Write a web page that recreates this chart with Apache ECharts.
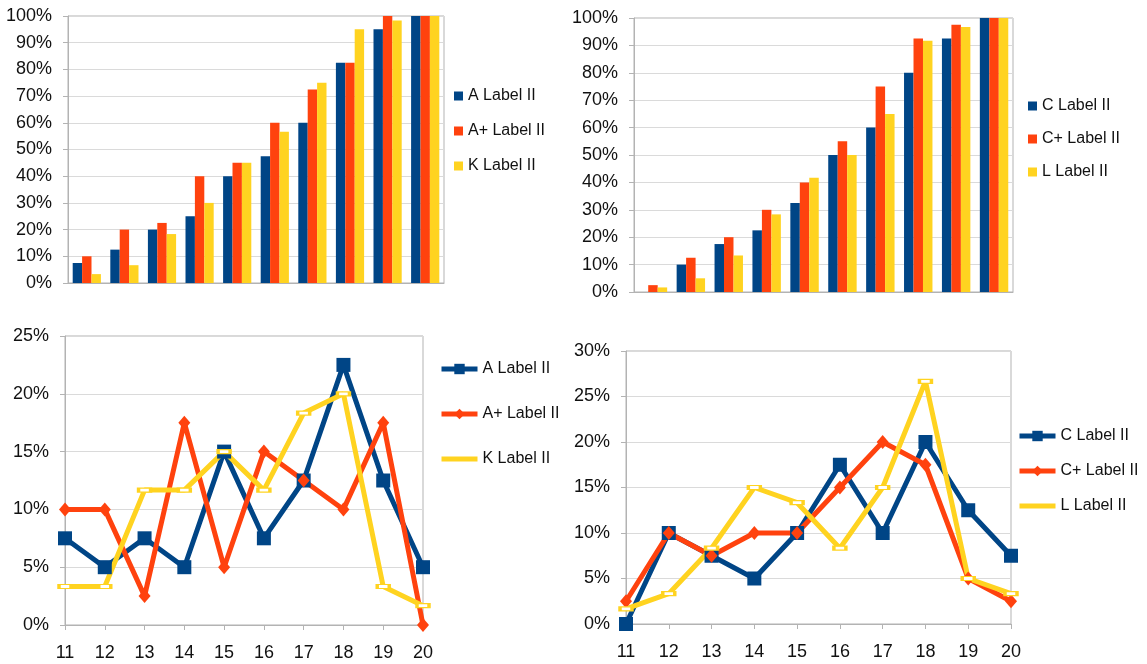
<!DOCTYPE html>
<html>
<head>
<meta charset="utf-8">
<script src="https://cdn.jsdelivr.net/npm/echarts@6/dist/echarts.min.js"></script>
<style>
  html, body { margin: 0; padding: 0; background: #ffffff; }
  .panel { position: absolute; left: 0; top: 0; width: 1147px; height: 664px; }
</style>
</head>
<body>
<div id="cumA" class="panel"></div>
<div id="cumC" class="panel"></div>
<div id="shareA" class="panel"></div>
<div id="shareC" class="panel"></div>
<script>
// Grade categories shared by all four panels
const categories = ['11', '12', '13', '14', '15', '16', '17', '18', '19', '20'];

// Share per grade (%)
const aShare     = [7.5, 5, 7.5, 5, 15, 7.5, 12.5, 22.5, 12.5, 5];
const aPlusShare = [10, 10, 2.5, 17.5, 5, 15, 12.5, 10, 17.5, 0];
const kShare     = [3.33, 3.33, 11.67, 11.67, 15, 11.67, 18.33, 20, 3.33, 1.67];
const cShare     = [0, 10, 7.5, 5, 10, 17.5, 10, 20, 12.5, 7.5];
const cPlusShare = [2.5, 10, 7.5, 10, 10, 15, 20, 17.5, 5, 2.5];
const lShare     = [1.67, 3.33, 8.33, 15, 13.33, 8.33, 15, 26.67, 5, 3.33];

// Cumulative share up to each grade (%)
const aCum     = [7.5, 12.5, 20, 25, 40, 47.5, 60, 82.5, 95, 100];
const aPlusCum = [10, 20, 22.5, 40, 45, 60, 72.5, 82.5, 100, 100];
const kCum     = [3.33, 6.67, 18.33, 30, 45, 56.67, 75, 95, 98.33, 100];
const cCum     = [0, 10, 17.5, 22.5, 32.5, 50, 60, 80, 92.5, 100];
const cPlusCum = [2.5, 12.5, 20, 30, 40, 55, 75, 92.5, 97.5, 100];
const lCum     = [1.67, 5, 13.33, 28.33, 41.67, 50, 65, 91.67, 96.67, 100];

// Series names
const namesA = ['A Label II', 'A+ Label II', 'K Label II'];
const namesC = ['C Label II', 'C+ Label II', 'L Label II'];

const BLUE = '#004586', RED = '#ff420e', YELLOW = '#ffd320';
const AXIS_FONT = { fontFamily: 'Liberation Sans', fontSize: 18, color: '#111' };
const LEGEND_FONT = { fontFamily: 'Liberation Sans', fontSize: 16, color: '#111' };

function yAxis(max, interval) {
  return {
    type: 'value', min: 0, max: max, interval: interval,
    axisLine: { show: true, lineStyle: { color: '#b3b3b3', width: 1 } },
    axisTick: { show: true, length: 5, lineStyle: { color: '#b3b3b3' } },
    splitLine: { show: true, lineStyle: { color: '#dadada', width: 1 } },
    axisLabel: Object.assign({ formatter: '{value}%', margin: 16 }, AXIS_FONT)
  };
}

function barChart(el, box, legendPos, names, values, legendGap) {
  const colors = [BLUE, RED, YELLOW];
  const chart = echarts.init(document.getElementById(el), null, { renderer: 'canvas' });
  chart.setOption({
    animation: false,
    grid: Object.assign({ show: true, borderColor: '#b3b3b3', borderWidth: 1 }, box),
    legend: {
      orient: 'vertical', left: legendPos[0], top: legendPos[1], padding: 0,
      icon: 'rect', itemWidth: 9, itemHeight: 9, itemGap: legendGap,
      textStyle: LEGEND_FONT, data: names
    },
    xAxis: {
      type: 'category', data: categories,
      axisLine: { show: true, lineStyle: { color: '#b3b3b3' } },
      axisTick: { show: false }, axisLabel: { show: false }
    },
    yAxis: yAxis(100, 10),
    series: names.map((n, i) => ({
      name: n, type: 'bar', data: values[i],
      barGap: '0%', barCategoryGap: '25%',
      itemStyle: { color: colors[i] }
    }))
  });
}

function lineChart(el, box, legendPos, names, values, max, legendGap) {
  const chart = echarts.init(document.getElementById(el), null, { renderer: 'canvas' });
  const styles = [
    { color: BLUE, symbol: 'rect', symbolSize: 14 },
    { color: RED, symbol: 'diamond', symbolSize: [12, 14] },
    { color: YELLOW, symbol: 'emptyRect', symbolSize: [12, 4] }
  ];
  chart.setOption({
    animation: false,
    grid: Object.assign({ show: true, borderColor: '#b3b3b3', borderWidth: 1 }, box),
    legend: {
      orient: 'vertical', left: legendPos[0], top: legendPos[1], padding: 0,
      itemWidth: 36, itemHeight: 13, itemGap: legendGap,
      lineStyle: { width: 5 },
      textStyle: LEGEND_FONT,
      data: [
        { name: names[0] },
        { name: names[1], itemStyle: { borderWidth: 0 } },
        { name: names[2], itemStyle: { opacity: 0 } }
      ]
    },
    xAxis: {
      type: 'category', data: categories, boundaryGap: false,
      axisLine: { show: true, lineStyle: { color: '#b3b3b3' } },
      axisTick: { show: true, length: 5, lineStyle: { color: '#b3b3b3' } },
      splitLine: { show: false },
      axisLabel: Object.assign({ margin: 19 }, AXIS_FONT)
    },
    yAxis: yAxis(max, 5),
    series: names.map((n, i) => ({
      name: n, type: 'line', data: values[i],
      symbol: styles[i].symbol, symbolSize: styles[i].symbolSize,
      lineStyle: { color: styles[i].color, width: 5 },
      itemStyle: { color: styles[i].color, borderWidth: 1 }
    }))
  });
}

barChart('cumA', { left: 68, top: 16, width: 376, height: 267 }, [454, 88],
  namesA, [aCum, aPlusCum, kCum], 19);
barChart('cumC', { left: 634, top: 18, width: 379, height: 274 }, [1028, 98],
  namesC, [cCum, cPlusCum, lCum], 17);
lineChart('shareA', { left: 65, top: 336, width: 358, height: 289 }, [439, 361],
  namesA, [aShare, aPlusShare, kShare], 25, 29);
lineChart('shareC', { left: 626, top: 351, width: 385, height: 273 }, [1017, 428],
  namesC, [cShare, cPlusShare, lShare], 30, 19);
</script>
</body>
</html>
